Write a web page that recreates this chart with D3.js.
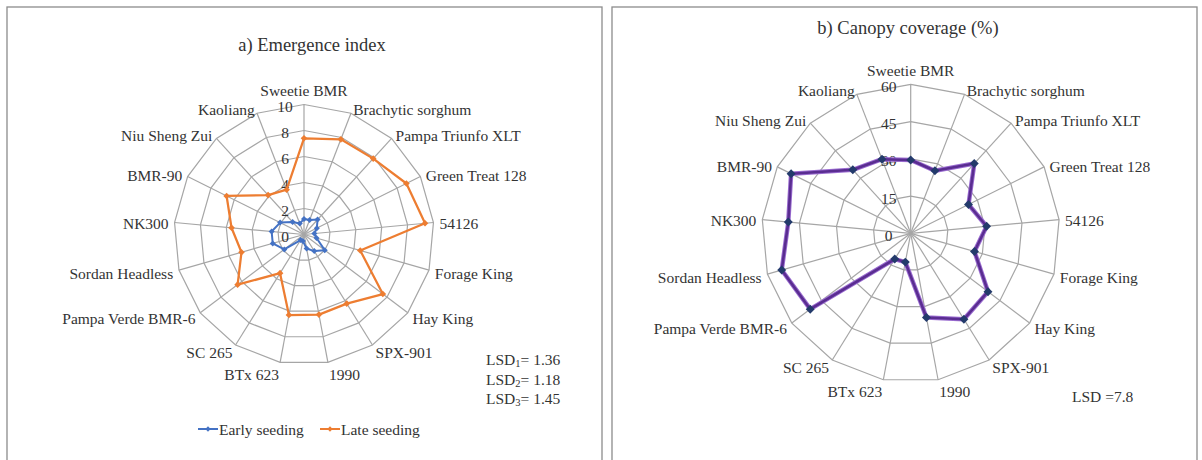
<!DOCTYPE html>
<html>
<head>
<meta charset="utf-8">
<script src="https://cdn.jsdelivr.net/npm/d3@7"></script>
<style>
  html, body { margin: 0; padding: 0; background: #ffffff; }
  svg { display: block; }
</style>
</head>
<body>
<svg id="chart" width="1202" height="460"></svg>
<script>
// Sorghum cultivars, clockwise from the top
const categories = [
  "Sweetie BMR", "Brachytic sorghum", "Pampa Triunfo XLT", "Green Treat 128",
  "54126", "Forage King", "Hay King", "SPX-901", "1990", "BTx 623", "SC 265",
  "Pampa Verde BMR-6", "Sordan Headless", "NK300", "BMR-90", "Niu Sheng Zui", "Kaoliang"
];

// a) Emergence index
const earlySeeding = [1.2, 1.2, 1.55, 1.1, 0.8, 1.0, 2.0, 1.5, 1.1, 0.5, 0.5, 1.9, 2.5, 2.5, 2.05, 1.3, 0.9];
const lateSeeding  = [7.4, 7.85, 7.9, 8.8, 9.35, 4.5, 7.6, 6.25, 6.27, 6.3, 3.5, 6.4, 5.0, 5.6, 6.65, 4.1, 3.7];
const emergenceTicks = [0, 2, 4, 6, 8, 10];
const emergenceLsd = [["1", "= 1.36"], ["2", "= 1.18"], ["3", "= 1.45"]];

// b) Canopy coverage (%)
const canopyCoverage = [29.5, 27, 38, 26, 30.7, 26.7, 39, 40.7, 34.5, 11.8, 12.2, 50.7, 54, 49.5, 53.8, 34.6, 32];
const canopyTicks = [0, 15, 30, 45, 60];
const canopyLsd = "LSD =7.8";

const seriesNames = ["Early seeding", "Late seeding"];

const SERIF = "'Liberation Serif', 'Times New Roman', Times, serif";
const TEXT_COLOR = "#333333";

const svg = d3.select("#chart")
  .attr("font-family", SERIF);
svg.append("rect").attr("width", 1202).attr("height", 460).attr("fill", "#ffffff");

// panel frames
svg.append("rect").attr("x", 7).attr("y", 7).attr("width", 595).attr("height", 470)
  .attr("fill", "none").attr("stroke", "#8c8c8c").attr("stroke-width", 1.3);
svg.append("rect").attr("x", 612).attr("y", 7).attr("width", 585).attr("height", 470)
  .attr("fill", "none").attr("stroke", "#8c8c8c").attr("stroke-width", 1.3);

const FONT = 15.5;
const n = categories.length;
const angle = d3.scaleLinear().domain([0, n]).range([0, 2 * Math.PI]);

function addText(g, x, y, str, size, anchor) {
  return g.append("text")
    .attr("x", x).attr("y", y)
    .attr("text-anchor", anchor || "start")
    .attr("dominant-baseline", "central")
    .attr("font-family", SERIF)
    .attr("font-size", size)
    .attr("fill", TEXT_COLOR)
    .text(str);
}

function radar(g, cx, cy, R, ticks, tickDx) {
  const maxV = ticks[ticks.length - 1];
  const r = d3.scaleLinear().domain([0, maxV]).range([0, R]);
  const pt = (i, v) => [cx + Math.sin(angle(i)) * r(v), cy - Math.cos(angle(i)) * r(v)];

  // polygonal rings
  ticks.slice(1).forEach(t => {
    g.append("polygon")
      .attr("points", d3.range(n).map(i => pt(i, t).join(",")).join(" "))
      .attr("fill", "none").attr("stroke", "#a6a6a6").attr("stroke-width", 1.2);
  });
  // spokes
  d3.range(n).forEach(i => {
    const [x, y] = pt(i, maxV);
    g.append("line").attr("x1", cx).attr("y1", cy).attr("x2", x).attr("y2", y)
      .attr("stroke", "#a6a6a6").attr("stroke-width", 1.2);
  });
  // category labels
  d3.range(n).forEach(i => {
    const a = angle(i), s = Math.sin(a), c = Math.cos(a);
    const rr = R + 6;
    const px = cx + s * rr, py = cy - c * rr;
    let dy = 2;
    if (Math.abs(c) > 0.95) dy += c > 0 ? -10 : 4;
    addText(g, px, py + dy, categories[i], FONT,
      Math.abs(s) < 0.05 ? "middle" : (s > 0 ? "start" : "end"));
  });
  const tickLabels = () => {
    ticks.forEach(t => addText(g, cx + tickDx, cy - r(t) + 2, t, FONT, "middle"));
  };
  return { r, pt, tickLabels };
}

function drawSeries(g, cx, cy, r, values, color, width, markerColor, markerSize) {
  const line = d3.lineRadial()
    .angle((d, i) => angle(i))
    .radius(d => r(d))
    .curve(d3.curveLinearClosed);
  g.append("path")
    .attr("transform", `translate(${cx},${cy})`)
    .attr("d", line(values))
    .attr("fill", "none").attr("stroke", color).attr("stroke-width", width)
    .attr("stroke-linejoin", "round");
  g.selectAll(null).data(values).enter().append("path")
    .attr("transform", (d, i) => `translate(${cx + Math.sin(angle(i)) * r(d)},${cy - Math.cos(angle(i)) * r(d)}) rotate(45)`)
    .attr("d", d3.symbol().type(d3.symbolSquare).size(markerSize))
    .attr("fill", markerColor);
}

// ---- a) Emergence index ----
const gA = svg.append("g");
addText(gA, 312, 45, "a) Emergence index", 18.5, "middle");
const cxA = 304, cyA = 234.5, RA = 130;
const A = radar(gA, cxA, cyA, RA, emergenceTicks, -19);
A.tickLabels();
drawSeries(gA, cxA, cyA, A.r, lateSeeding, "#ED7D31", 2.25, "#ED7D31", 22);
drawSeries(gA, cxA, cyA, A.r, earlySeeding, "#4472C4", 2, "#4472C4", 18);

// LSD notes
emergenceLsd.forEach((d, i) => {
  const t = addText(gA, 486, 359 + i * 19.5, null, FONT, "start");
  t.append("tspan").text("LSD");
  t.append("tspan").attr("font-size", 10.5).attr("dy", 4).text(d[0]);
  t.append("tspan").attr("dy", -4).text(d[1]);
});

// legend
const legendItems = [
  { name: seriesNames[0], color: "#4472C4", x: 198 },
  { name: seriesNames[1], color: "#ED7D31", x: 320 }
];
legendItems.forEach(d => {
  const ly = 429;
  gA.append("line").attr("x1", d.x).attr("x2", d.x + 20).attr("y1", ly).attr("y2", ly)
    .attr("stroke", d.color).attr("stroke-width", 2);
  gA.append("path").attr("transform", `translate(${d.x + 10},${ly}) rotate(45)`)
    .attr("d", d3.symbol().type(d3.symbolSquare).size(14)).attr("fill", d.color);
  addText(gA, d.x + 21, ly, d.name, FONT, "start");
});

// ---- b) Canopy coverage ----
const gB = svg.append("g");
addText(gB, 908, 28, "b) Canopy coverage (%)", 18.5, "middle");
const cxB = 910.7, cyB = 233.3, RB = 149;
const B = radar(gB, cxB, cyB, RB, canopyTicks, -22);
B.tickLabels();
// soft halo under the line
gB.append("path")
  .attr("transform", `translate(${cxB},${cyB})`)
  .attr("d", d3.lineRadial().angle((d, i) => angle(i)).radius(d => B.r(d)).curve(d3.curveLinearClosed)(canopyCoverage))
  .attr("fill", "none").attr("stroke", "#9a6cd0").attr("stroke-width", 4.5).attr("stroke-linejoin", "round");
drawSeries(gB, cxB, cyB, B.r, canopyCoverage, "#5a2d91", 2.6, "#233a6b", 40);

addText(gB, 1072, 396, canopyLsd, FONT, "start");
</script>
</body>
</html>
